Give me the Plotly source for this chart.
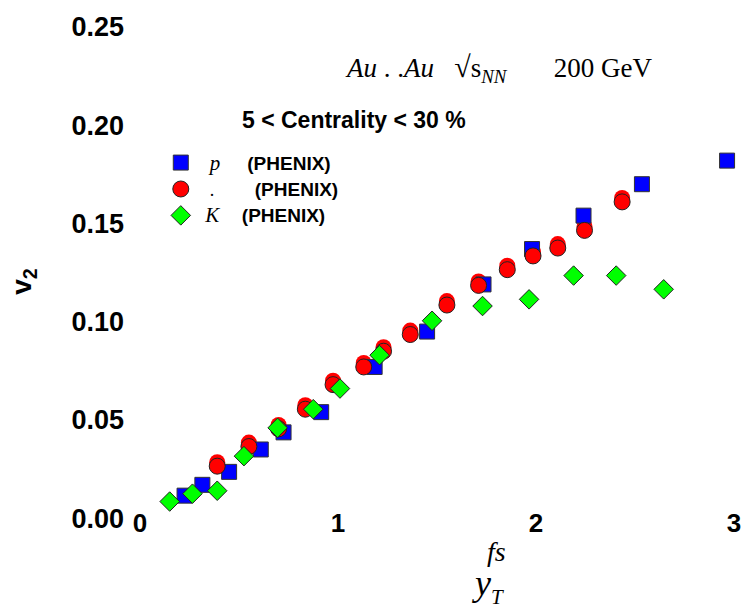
import plotly.graph_objects as go

# proton (p) PHENIX
p_x = [0.225, 0.315, 0.45, 0.61, 0.725, 0.915, 1.185, 1.45, 1.735, 1.98, 2.24, 2.535, 2.965]
p_y = [0.0115, 0.017, 0.0236, 0.035, 0.0437, 0.054, 0.077, 0.095, 0.119, 0.137, 0.154, 0.170, 0.182]

# pion PHENIX
pi_x = [0.39, 0.55, 0.70, 0.835, 0.975, 1.13, 1.23, 1.365, 1.55, 1.71, 1.855, 1.985, 2.11, 2.245, 2.435]
pi_y = [0.0265, 0.0365, 0.0455, 0.0555, 0.068, 0.077, 0.085, 0.0935, 0.1085, 0.1185, 0.1265, 0.1335, 0.1375, 0.1465, 0.161]

# kaon PHENIX
k_x = [0.15, 0.265, 0.39, 0.525, 0.695, 0.875, 1.01, 1.21, 1.475, 1.73, 1.965, 2.19, 2.405, 2.645]
k_y = [0.0085, 0.0125, 0.014, 0.0316, 0.046, 0.0555, 0.066, 0.083, 0.1005, 0.108, 0.1114, 0.1235, 0.1235, 0.1165]

x_ticks = [0, 1, 2, 3]
y_ticks = [0.00, 0.05, 0.10, 0.15, 0.20, 0.25]

# pixel geometry
TOP, BOTTOM = 20, 536          # paper box
Y0_PX, Y25_PX = 518, 20        # pixel rows of v2 = 0 and v2 = 0.25
XAX_PX = 505                   # row of the x axis (tick labels below it)
PLOT_H = BOTTOM - TOP
PX = 0.25 / (Y0_PX - Y25_PX)
SHIFT = 4 * PX

LBL = "<span style='font-family:Liberation Sans;font-size:19px'><b>(PHENIX)</b></span>"
NB = "\u00a0"

fig = go.Figure()

# red shadow behind the pion circles (same data, drawn on a slightly shifted axis)
fig.add_trace(go.Scatter(x=pi_x, y=pi_y, mode="markers", yaxis="y", showlegend=False,
                         cliponaxis=False, hoverinfo="skip",
                         marker=dict(symbol="circle", size=16, color="#ff0000", line=dict(width=0))))

fig.add_trace(go.Scatter(x=p_x, y=p_y, mode="markers", yaxis="y2", cliponaxis=False,
                         name=NB * 2 + "<span style='font-size:21px'><i>p</i></span>" + NB * 6 + LBL,
                         marker=dict(symbol="square", size=15, color="#0000ff", line=dict(width=1, color="#333333"))))
fig.add_trace(go.Scatter(x=pi_x, y=pi_y, mode="markers", yaxis="y2", cliponaxis=False,
                         name=NB * 2 + "." + NB * 9 + LBL,
                         marker=dict(symbol="circle", size=16, color="#ff0000", line=dict(width=1, color="#222222"))))
fig.add_trace(go.Scatter(x=k_x, y=k_y, mode="markers", yaxis="y2", cliponaxis=False,
                         name=NB + "<span style='font-size:21px'><i>K</i></span>" + NB * 5 + LBL,
                         marker=dict(symbol="diamond", size=15, color="#00ff00", line=dict(width=1, color="#222222"))))

dom_main = [(BOTTOM - XAX_PX) / PLOT_H, 1]

fig.update_layout(
    width=753, height=615,
    margin=dict(l=140, r=13, t=TOP, b=615 - BOTTOM),
    paper_bgcolor="white", plot_bgcolor="rgba(0,0,0,0)",
    font=dict(family="Liberation Sans", color="black"),
    xaxis=dict(range=[0, 3], tickvals=x_ticks, ticktext=[str(v) for v in x_ticks],
               anchor="y",
               showgrid=False, zeroline=False, showline=False, ticks="",
               tickfont=dict(family="Liberation Sans", size=26, weight="bold", color="black")),
    yaxis=dict(domain=dom_main,
               range=[(Y0_PX - XAX_PX) * PX - SHIFT, 0.25 - SHIFT],
               showticklabels=False, showgrid=False, zeroline=False, showline=False, ticks=""),
    yaxis2=dict(domain=[0, 1], anchor="free", position=0, side="left",
                range=[-(BOTTOM - Y0_PX) * PX, 0.25],
                tickvals=y_ticks, ticktext=[f"{v:.2f}" for v in y_ticks],
                showgrid=False, zeroline=False, showline=False, ticks="",
                ticklabelstandoff=16,
                tickfont=dict(family="Liberation Sans", size=27, weight="bold", color="black"),
                title=dict(text="<b>v<sub>2</sub></b>", standoff=30,
                           font=dict(family="Liberation Sans", size=28))),
    legend=dict(x=(161 - 140) / 600, y=(BOTTOM - 139) / PLOT_H, xanchor="left", yanchor="top",
                bgcolor="rgba(0,0,0,0)",
                font=dict(family="Liberation Serif", size=18)),
    annotations=[
        dict(text="<i>Au</i> . .<i>Au</i>" + NB * 3 + "<span style='font-size:30px'>√</span>s<sub><i>NN</i></sub>" + NB * 7 + "200 GeV",
             xref="paper", yref="paper", x=(345 - 140) / 600, y=(BOTTOM - 62) / PLOT_H,
             xanchor="left", yanchor="middle", showarrow=False,
             font=dict(family="Liberation Serif", size=27)),
        dict(text="<b>5 < Centrality < 30 %</b>",
             xref="paper", yref="paper", x=(241 - 140) / 600, y=(BOTTOM - 114) / PLOT_H,
             xanchor="left", yanchor="middle", showarrow=False,
             font=dict(family="Liberation Sans", size=23)),
        dict(text="<i>y</i>", xref="paper", yref="paper",
             x=(485 - 140) / 600, y=(BOTTOM - 584) / PLOT_H, xanchor="center", yanchor="middle",
             showarrow=False, font=dict(family="Liberation Serif", size=36)),
        dict(text="<i>fs</i>", xref="paper", yref="paper",
             x=(488 - 140) / 600, y=(BOTTOM - 552) / PLOT_H, xanchor="left", yanchor="middle",
             showarrow=False, font=dict(family="Liberation Serif", size=28)),
        dict(text="<i>T</i>", xref="paper", yref="paper",
             x=(493 - 140) / 600, y=(BOTTOM - 598) / PLOT_H, xanchor="left", yanchor="middle",
             showarrow=False, font=dict(family="Liberation Serif", size=21)),
    ],
)

fig.write_html("out.html", config={"displayModeBar": False},
               post_script="document.body.style.margin='0';")
